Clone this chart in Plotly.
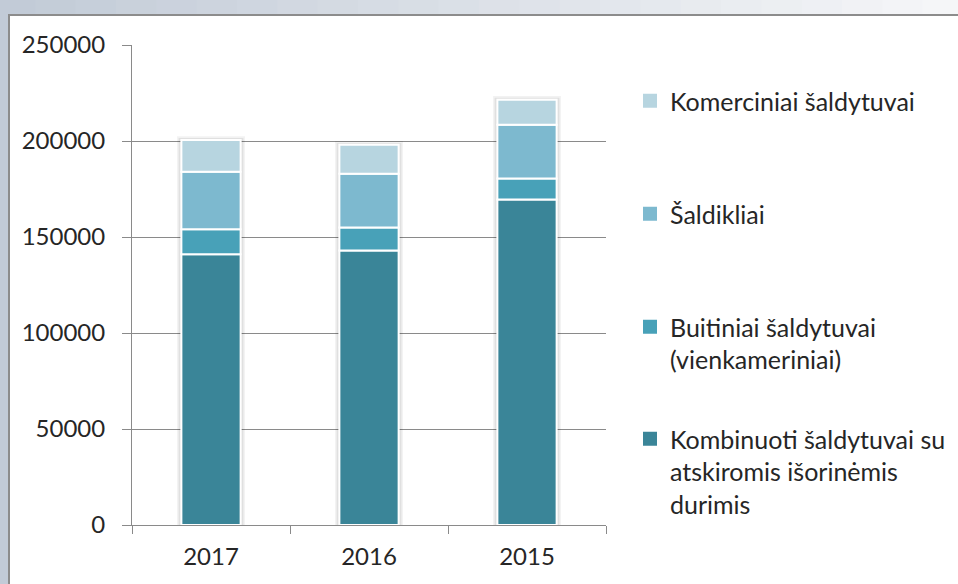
import plotly.graph_objects as go

years = ["2017", "2016", "2015"]
kombinuoti = [141000, 143000, 169500]
buitiniai = [13000, 12000, 11000]
saldikliai = [30000, 28000, 28000]
komerciniai = [16500, 15000, 13000]

series_names = [
    "Kombinuoti šaldytuvai su<br>atskiromis išorinėmis<br>durimis",
    "Buitiniai šaldytuvai<br>(vienkameriniai)",
    "Šaldikliai",
    "Komerciniai šaldytuvai",
]
series_values = [kombinuoti, buitiniai, saldikliai, komerciniai]
series_colors = ["#3a8598", "#48a1b8", "#7db9cf", "#b7d5e0"]
legend_ids = ["legend4", "legend3", "legend2", "legend"]
y_ticks = [0, 50000, 100000, 150000, 200000, 250000]

FONT = "Lato, 'Open Sans', sans-serif"
TXT = "#262626"

totals = [sum(v) for v in zip(*series_values)]

fig = go.Figure()
# soft shadow behind each stacked column
for wdt, alpha, extra in [(0.43, 0.05, 2000), (0.41, 0.07, 1000)]:
    fig.add_trace(go.Bar(
        x=years, y=[t + extra for t in totals], base=0, width=wdt,
        marker=dict(color="rgba(0,0,0,%s)" % alpha, line=dict(width=0)),
        showlegend=False, hoverinfo="skip",
    ))

bases = [0, 0, 0]
for name, vals, col, lg in zip(series_names, series_values, series_colors, legend_ids):
    fig.add_trace(go.Bar(
        x=years, y=vals, base=list(bases), width=0.375,
        marker=dict(color=col, line=dict(color="white", width=2)),
        showlegend=False, name=name,
    ))
    bases = [b + v for b, v in zip(bases, vals)]
    # legend entry with a larger square key
    fig.add_trace(go.Scatter(
        x=[None], y=[None], mode="markers", name=name, legend=lg,
        marker=dict(symbol="square", size=14, color=col, line=dict(width=0)),
    ))

# plot area geometry (pixels): x 132..606, y 45..525
L, R, T, B = 132, 606, 45, 525
W, H = 958, 584
pw, ph = R - L, B - T

def px_x(x):
    return (x - L) / pw

def px_y(y):
    return (B - y) / ph

shapes = []
# background gradient (outer frame)
n = 24
c0 = (0xc2, 0xcb, 0xd7)
c1 = (0xf5, 0xf6, 0xf8)
for i in range(n):
    t = i / (n - 1)
    c = tuple(int(round(c0[k] + (c1[k] - c0[k]) * t)) for k in range(3))
    x0 = -5 + i * (W + 10) / n
    x1 = -5 + (i + 1) * (W + 10) / n + 1
    shapes.append(dict(type="rect", xref="paper", yref="paper",
                       x0=px_x(x0), x1=px_x(x1), y0=px_y(H + 10), y1=px_y(-10),
                       fillcolor="rgb(%d,%d,%d)" % c, line=dict(width=0), layer="below"))
# white panel
shapes.append(dict(type="rect", xref="paper", yref="paper",
                   x0=px_x(9), x1=px_x(W + 20), y0=px_y(H + 20), y1=px_y(15),
                   fillcolor="white", line=dict(color="#8c8c8c", width=2), layer="below"))

legend_tops = [92, 205, 318, 430]
legend_common = dict(font=dict(family=FONT, size=25, color=TXT), bgcolor="rgba(0,0,0,0)",
                     xanchor="left", yanchor="top", valign="top", itemwidth=30,
                     itemsizing="trace")
layout_legends = {}
for lg, top in zip(["legend", "legend2", "legend3", "legend4"], legend_tops):
    layout_legends[lg] = dict(x=px_x(630), y=px_y(top - 14), **legend_common)

fig.update_layout(
    width=W, height=H,
    margin=dict(l=L, r=W - R, t=T, b=H - B, autoexpand=False),
    paper_bgcolor="#dde2e9",
    plot_bgcolor="white",
    barmode="overlay",
    shapes=shapes,
    showlegend=True,
    font=dict(family=FONT, size=24, color=TXT),
    **layout_legends,
)
fig.update_yaxes(
    range=[0, 250000], tickvals=y_ticks, ticktext=[str(v) for v in y_ticks],
    showgrid=True, gridcolor="#8a8a8a", gridwidth=1,
    showline=True, linecolor="#8a8a8a", linewidth=1,
    ticks="outside", ticklen=9, tickcolor="#8a8a8a",
    ticklabelstandoff=12, zeroline=False, automargin=False,
    tickfont=dict(family=FONT, size=24, color=TXT),
)
fig.update_xaxes(
    range=[-0.5, 2.5],
    showline=True, linecolor="#8a8a8a", linewidth=1,
    ticks="outside", ticklen=8, tickcolor="#8a8a8a", tickson="boundaries",
    ticklabelstandoff=10, automargin=False,
    tickfont=dict(family=FONT, size=24, color=TXT),
)

fig.write_html("out.html", config={"displayModeBar": False},
               post_script="document.body.style.margin='0';")
